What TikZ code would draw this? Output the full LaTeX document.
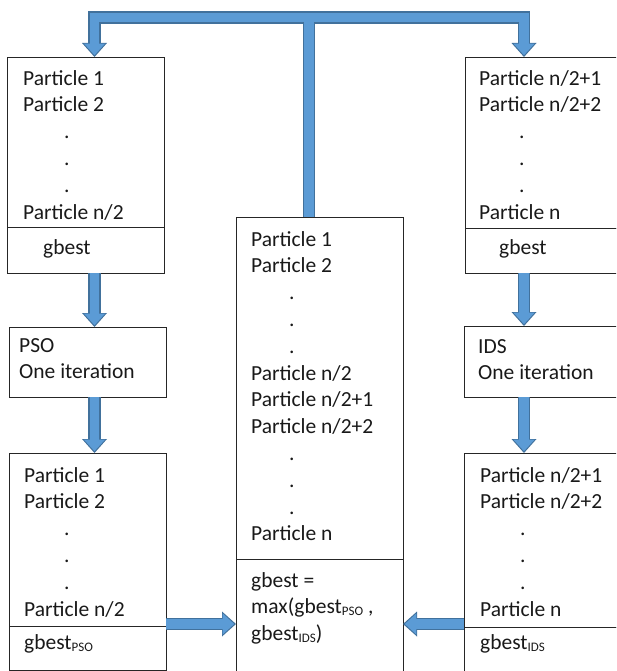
\documentclass[tikz,border=0pt]{standalone}
\usepackage{fontspec}
\setmainfont{Carlito}
\usetikzlibrary{arrows.meta}
\definecolor{arrowfill}{HTML}{5B9BD5}
\definecolor{arrowedge}{HTML}{41719C}
\newcommand{\subtxt}[1]{\raisebox{-2pt}{\fontsize{13}{13}\selectfont #1}}
\newcommand{\dotrow}[1]{\hspace*{#1}.}
\begin{document}
\begin{tikzpicture}[x=1pt,y=-1pt,
  box/.style={draw=black!85,line width=0.9pt,inner sep=0pt,outer sep=0pt,anchor=north west},
  txt/.style={anchor=north west,inner sep=0pt,align=left,text=black!90,font=\fontsize{21.5}{26.8}\selectfont},
  fatout/.style={draw=arrowedge,line width=12.5pt},
  fatin/.style={draw=arrowfill,line width=9.5pt},
  headout/.style={-{Triangle[width=25pt,length=14pt,line width=0pt]}},
  headin/.style={shorten >=1.8pt,-{Triangle[width=21pt,length=11.5pt,line width=0pt]}}]
 \useasboundingbox (0,0) rectangle (616,671);
 \clip (0,0) rectangle (616,671);
 % boxes
 \node[box,minimum width=157pt,minimum height=170pt] (topL) at (7,57) {};
 \node[box,minimum width=157pt,minimum height=46pt] (gbL) at (7,227) {};
 \node[box,minimum width=175pt,minimum height=171pt] (topR) at (465,57) {};
 \node[box,minimum width=175pt,minimum height=45pt] (gbR) at (465,228) {};
 \node[box,minimum width=167pt,minimum height=342pt] (mid) at (236,217) {};
 \node[box,minimum width=167pt,minimum height=130pt] (gbMid) at (236,559) {};
 \node[box,minimum width=157pt,minimum height=70pt] (pso) at (9,327) {};
 \node[box,minimum width=176pt,minimum height=71pt] (ids) at (464,326) {};
 \node[box,minimum width=157pt,minimum height=173pt] (botL) at (9,453) {};
 \node[box,minimum width=157pt,minimum height=44pt] (gbPso) at (9,626) {};
 \node[box,minimum width=176pt,minimum height=174pt] (botR) at (464,453) {};
 \node[box,minimum width=176pt,minimum height=60pt] (gbIds) at (464,627) {};
 % texts
 \node[txt] (topLtxt) at (23,66.2) {\strut Particle 1\\Particle 2\\\dotrow{41pt}\\\dotrow{41pt}\\\dotrow{41pt}\\Particle n/2};
 \node[txt] (gbLtxt) at (43,235.2) {\strut gbest};
 \node[txt] (topRtxt) at (479,66.2) {\strut Particle n/2+1\\Particle n/2+2\\\dotrow{40pt}\\\dotrow{40pt}\\\dotrow{40pt}\\Particle n};
 \node[txt] (gbRtxt) at (499,235.2) {\strut gbest};
 \node[txt] (psotxt) at (19,333.2) {\strut PSO\\One iteration};
 \node[txt] (idstxt) at (478,334.2) {\strut IDS\\One iteration};
 \node[txt] (botLtxt) at (24,463.2) {\strut Particle 1\\Particle 2\\\dotrow{40pt}\\\dotrow{40pt}\\\dotrow{40pt}\\Particle n/2};
 \node[txt] (gbPsotxt) at (24,630.2) {\strut gbest\subtxt{PSO}};
 \node[txt] (botRtxt) at (480,463.2) {\strut Particle n/2+1\\Particle n/2+2\\\dotrow{40pt}\\\dotrow{40pt}\\\dotrow{40pt}\\Particle n};
 \node[txt] (gbIdstxt) at (480,630.2) {\strut gbest\subtxt{IDS}};
 \node[txt] (midtxt) at (251,227.2) {\strut Particle 1\\Particle 2\\\dotrow{38pt}\\\dotrow{38pt}\\\dotrow{38pt}\\Particle n/2\\Particle n/2+1\\Particle n/2+2\\\dotrow{38pt}\\\dotrow{38pt}\\\dotrow{38pt}\\Particle n};
 \node[txt] (gbMidtxt) at (251,568.2) {\strut gbest =\\max(gbest\subtxt{PSO} ,\\gbest\subtxt{IDS})};
 % block arrows
 \coordinate (bar) at (309,17.5);
 \coordinate (lx) at (94.5,0);
 \coordinate (rx) at (524,0);
 \coordinate (hy) at (0,624);
 \draw[fatout] (mid.north -| bar) -- (bar);
 \draw[fatout,headout] (bar) -| (topL.north -| lx);
 \draw[fatout,headout] (bar) -| (topR.north -| rx);
 \draw[fatout,headout] (gbL.south -| lx) -- (pso.north -| lx);
 \draw[fatout,headout] (pso.south -| lx) -- (botL.north -| lx);
 \draw[fatout,headout] (gbR.south -| rx) -- (ids.north -| rx);
 \draw[fatout,headout] (ids.south -| rx) -- (botR.north -| rx);
 \draw[fatout,headout] (botL.east |- hy) -- (gbMid.west |- hy);
 \draw[fatout,headout] (botR.west |- hy) -- (gbMid.east |- hy);
 \draw[fatin] (mid.north -| bar) -- (bar);
 \draw[fatin,headin] (bar) -| (topL.north -| lx);
 \draw[fatin,headin] (bar) -| (topR.north -| rx);
 \draw[fatin,headin] (gbL.south -| lx) -- (pso.north -| lx);
 \draw[fatin,headin] (pso.south -| lx) -- (botL.north -| lx);
 \draw[fatin,headin] (gbR.south -| rx) -- (ids.north -| rx);
 \draw[fatin,headin] (ids.south -| rx) -- (botR.north -| rx);
 \draw[fatin,headin] (botL.east |- hy) -- (gbMid.west |- hy);
 \draw[fatin,headin] (botR.west |- hy) -- (gbMid.east |- hy);
\end{tikzpicture}
\end{document}
